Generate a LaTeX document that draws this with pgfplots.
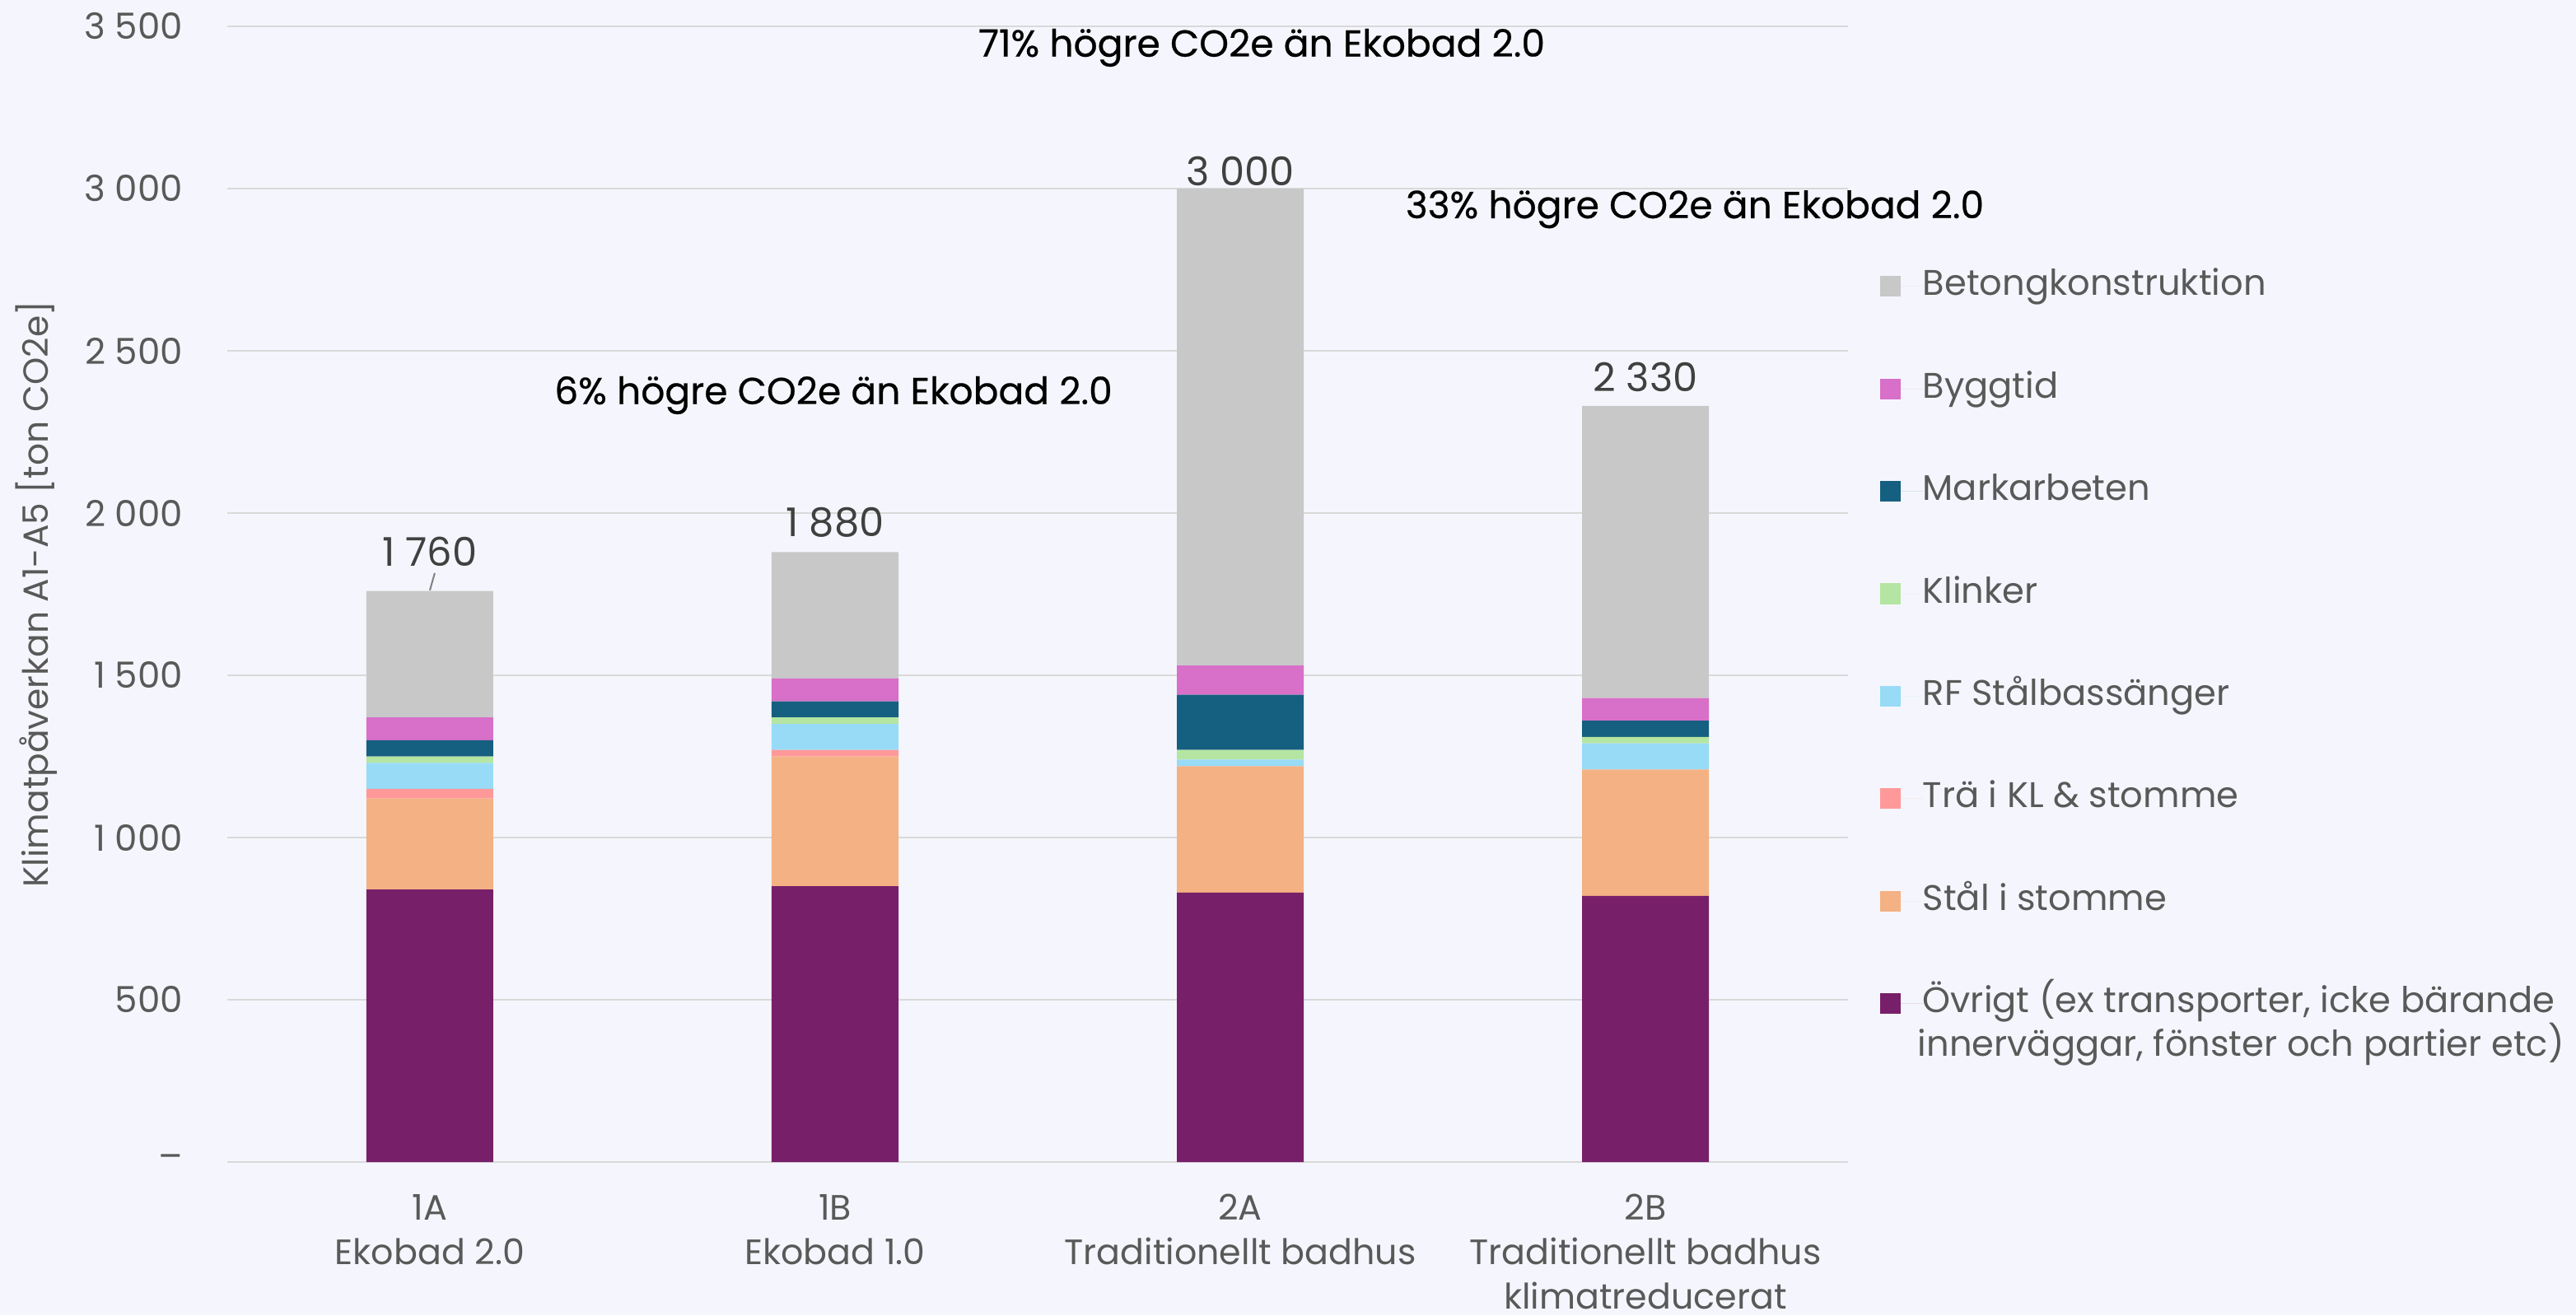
\documentclass[border=0pt]{standalone}
\usepackage{fontspec}
\setmainfont{Poppins}
\newfontfamily\medfont{Poppins}[FakeBold=0.5]
\usepackage{pgfplots}
\pgfplotsset{compat=1.18}
\definecolor{bg}{HTML}{F5F6FD}
\definecolor{cBet}{HTML}{C8C8C8}
\definecolor{cByg}{HTML}{D86FC8}
\definecolor{cMark}{HTML}{155F80}
\definecolor{cKlin}{HTML}{B5E5A2}
\definecolor{cRF}{HTML}{97DBF7}
\definecolor{cTra}{HTML}{FF9999}
\definecolor{cStal}{HTML}{F4B183}
\definecolor{cOvr}{HTML}{781F6A}
\definecolor{tickgray}{HTML}{595959}
\definecolor{gridgray}{HTML}{D9D9D9}
\begin{document}
\begin{tikzpicture}
\fill[bg] (-69pt,-46.5pt) rectangle (713pt,352.75pt);
\useasboundingbox (-69pt,-46.5pt) rectangle (713pt,352.75pt);
\begin{axis}[
  at={(0pt,0pt)}, anchor=south west,
  scale only axis, width=492pt, height=344.75pt,
  clip=false,
  ybar stacked, bar width=38.5pt,
  xmin=-0.5, xmax=3.5, ymin=0, ymax=3500,
  xtick={0,1,2,3},
  xticklabels={{1A\\Ekobad 2.0},{1B\\Ekobad 1.0},{2A\\Traditionellt badhus},{2B\\Traditionellt badhus\\klimatreducerat}},
  xticklabel style={align=center, font=\fontsize{10.7}{13.5}\selectfont, text=tickgray, yshift=-6.25pt},
  ytick={0,500,1000,1500,2000,2500,3000,3500},
  yticklabels={–,500,1~000,1~500,2~000,2~500,3~000,3~500},
  yticklabel style={font=\fontsize{10.9}{13}\selectfont, text=tickgray, xshift=-10pt},
  ymajorgrids, grid style={gridgray, line width=0.6pt},
  axis line style={draw=none}, tick style={draw=none},
  ylabel={Klimatpåverkan A1-A5 [ton CO2e]},
  ylabel style={at={(axis description cs:-0.1179,0.5)}, anchor=center, font=\fontsize{10.6}{12}\selectfont, text=tickgray},
  reverse legend,
  legend style={at={(rel axis cs:1.0132,0.7926)}, anchor=north west, draw=none, fill=none,
    font=\fontsize{10.8}{13.5}\selectfont, text=tickgray, row sep=20.6pt,
    nodes={text height=8pt, text depth=2.5pt, inner sep=0pt},
    cells={anchor=west}},
  legend image code/.code={\fill[#1] (0pt,-3.15pt) rectangle (6.3pt,3.15pt); \path (0pt,0pt) -- (13pt,0pt);},
  every axis plot/.append style={draw=none},
]
\addplot[fill=cOvr] coordinates {(0,840) (1,850) (2,830) (3,820)};
\addlegendentry{\raisebox{0pt}[\height][0pt]{\begin{tabular}[t]{@{}l@{}}Övrigt (ex transporter, icke bärande\\[-1pt]\hspace{-1.5pt}innerväggar, fönster och partier etc)\end{tabular}}}
\addplot[fill=cStal] coordinates {(0,280) (1,400) (2,390) (3,390)};
\addlegendentry{Stål i stomme}
\addplot[fill=cTra] coordinates {(0,30) (1,20) (2,0) (3,0)};
\addlegendentry{Trä i KL \& stomme}
\addplot[fill=cRF] coordinates {(0,80) (1,80) (2,20) (3,80)};
\addlegendentry{RF Stålbassänger}
\addplot[fill=cKlin] coordinates {(0,20) (1,20) (2,30) (3,20)};
\addlegendentry{Klinker}
\addplot[fill=cMark] coordinates {(0,50) (1,50) (2,170) (3,50)};
\addlegendentry{Markarbeten}
\addplot[fill=cByg] coordinates {(0,70) (1,70) (2,90) (3,70)};
\addlegendentry{Byggtid}
\addplot[fill=cBet] coordinates {(0,390) (1,390) (2,1470) (3,900)};
\addlegendentry{Betongkonstruktion}

\node[font=\fontsize{12}{14}\selectfont, text=black!75] at (axis cs:0,1881) {1~760};
\node[font=\fontsize{12}{14}\selectfont, text=black!75] at (axis cs:1,1972) {1~880};
\node[font=\fontsize{12}{14}\selectfont, text=black!75] at (axis cs:2,3053) {3~000};
\node[font=\fontsize{12}{14}\selectfont, text=black!75] at (axis cs:3,2419) {2~330};
\draw[gray, line width=0.5pt] (axis cs:0.012,1815) -- (axis cs:0,1762);

\node[font=\medfont\fontsize{11.4}{13}\selectfont, text=black] at (axis cs:2.053,3434) {71\% högre CO2e än Ekobad 2.0};
\node[font=\medfont\fontsize{11.4}{13}\selectfont, text=black] at (axis cs:3.122,2936) {33\% högre CO2e än Ekobad 2.0};
\node[font=\medfont\fontsize{11.4}{13}\selectfont, text=black] at (axis cs:0.996,2363) {6\% högre CO2e än Ekobad 2.0};
\end{axis}
\end{tikzpicture}
\end{document}
